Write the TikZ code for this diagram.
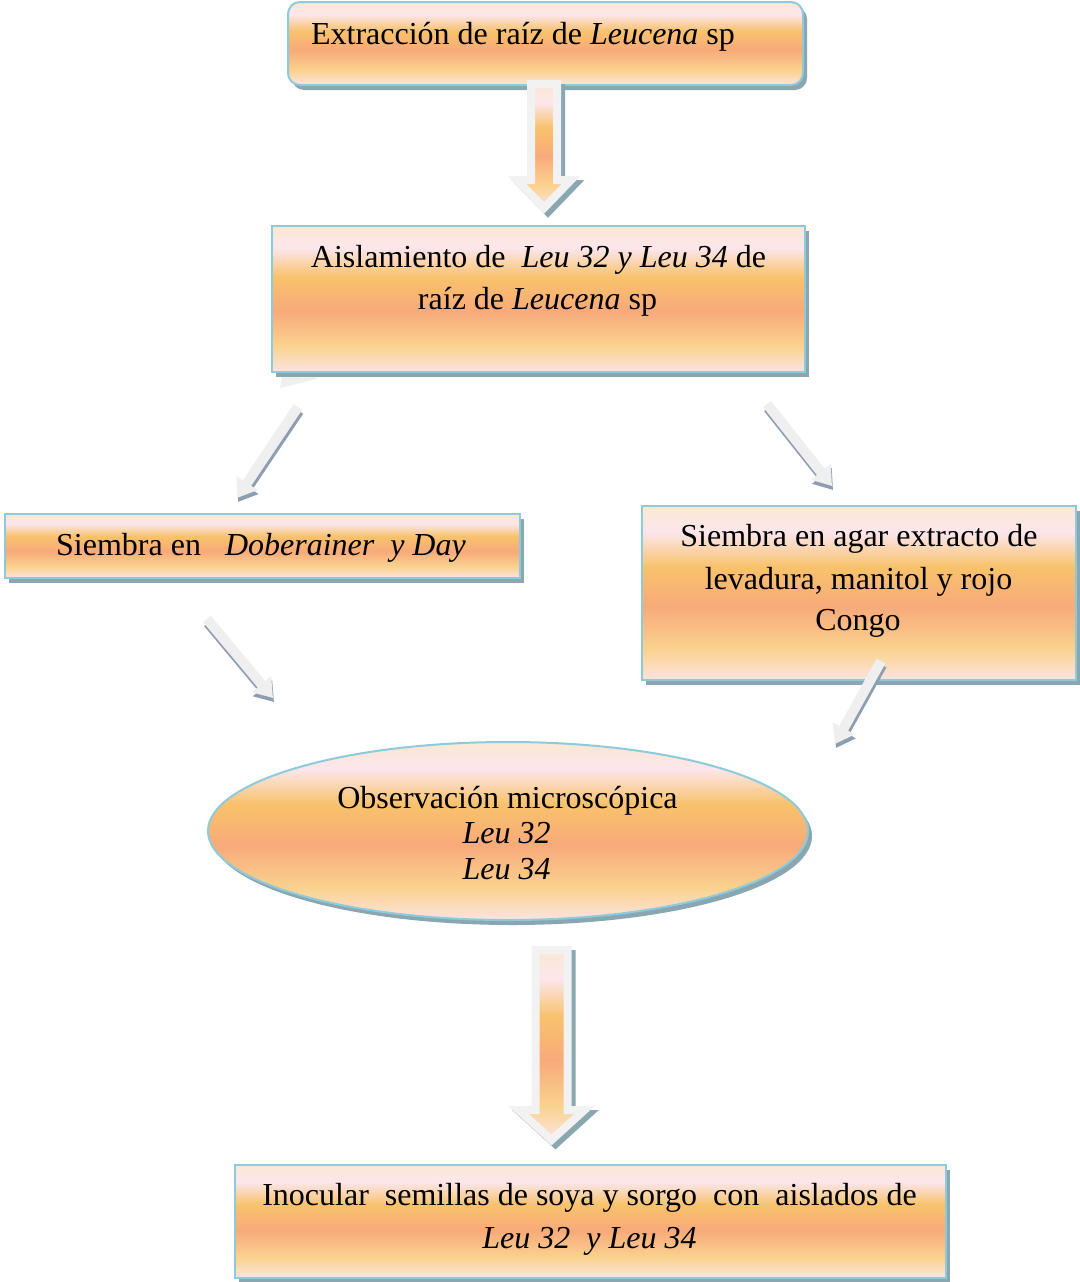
\documentclass[tikz,border=0pt]{standalone}
\usepackage{fontspec}
\setmainfont{Liberation Serif}
\usetikzlibrary{shapes.geometric,shadows,arrows.meta}
\definecolor{pcream}{HTML}{FBE8D2}
\definecolor{ppink}{HTML}{FCE6EC}
\definecolor{pora}{HTML}{F8C26C}
\definecolor{psal}{HTML}{F8AA7A}
\definecolor{plor}{HTML}{FAD28E}
\definecolor{pbot}{HTML}{FCE4E0}
\definecolor{rimc}{HTML}{8DCBDC}
\definecolor{shadowc}{HTML}{8AA6B0}
\definecolor{arrowrim}{HTML}{F2F2F2}
\definecolor{slimc}{HTML}{EFEFEF}
\definecolor{slimshadow}{HTML}{8E9EB2}
\pgfdeclareverticalshading{peach}{100bp}{color(0bp)=(pbot); color(25bp)=(pbot); color(34bp)=(plor); color(46bp)=(psal); color(57.5bp)=(pora); color(67.5bp)=(ppink); color(75bp)=(pcream); color(100bp)=(pcream)}
\tikzset{
  boxstyle/.style={draw=rimc, line width=2pt, shade, shading=peach, inner sep=0pt,
    drop shadow={shadow xshift=4pt, shadow yshift=-5pt, fill=shadowc, opacity=1}},
  txt/.style={font=\fontsize{32}{42}\selectfont, inner sep=0pt, anchor=base, text=black},
  slim/.style={draw=slimc, line width=10pt, -{Triangle[width=24pt,length=18pt]}},
  slimsh/.style={draw=slimshadow, line width=10pt, -{Triangle[width=24pt,length=18pt]}},
  bfill/.style={shade, shading=peach, draw=arrowrim, line join=miter},
  bshadow/.style={fill=shadowc, draw=shadowc, line join=miter}
}
% #1 coordinate, #2 half shaft, #3 half head, #4 head base, #5 tip, #6 line width
\newcommand\blockarrow[6]{%
  \path[bshadow, line width=#6, shift={(#1)}, xshift=4pt, yshift=-4pt]
    (-#2,0) -- (-#2,#4) -- (-#3,#4) -- (0,#5) -- (#3,#4) -- (#2,#4) -- (#2,0) -- cycle;
  \path[bfill, line width=#6, shift={(#1)}]
    (-#2,0) -- (-#2,#4) -- (-#3,#4) -- (0,#5) -- (#3,#4) -- (#2,#4) -- (#2,0) -- cycle;
}
\begin{document}
\begin{tikzpicture}[x=1pt, y=-1pt]
\useasboundingbox (0,0) rectangle (1079,1282);
\fill[white] (0,0) rectangle (1079,1282);

% boxes
\node[boxstyle, rounded corners=12pt, minimum width=515pt, minimum height=83pt] (n1) at (545.5,43.5) {};
\node[boxstyle, minimum width=533pt, minimum height=146pt] (n2) at (538.5,299) {};
\node[boxstyle, minimum width=515pt, minimum height=64pt] (n3) at (262.5,546) {};
\node[boxstyle, minimum width=434pt, minimum height=174pt] (n4) at (859,593) {};
\node[boxstyle, ellipse, minimum width=600pt, minimum height=178pt] (n5) at (508,831) {};
\node[boxstyle, minimum width=711pt, minimum height=113pt] (n6) at (590.5,1221.5) {};

% ghost fragment below box 2
\fill[slimc] (282,377) -- (316,377) -- (316,379) -- (280,388) -- cycle;

% texts
\node[txt] (t1) at (523,44) {Extracción de raíz de \textit{Leucena} sp};
\node[txt] (t2a) at (538.5,267) {Aislamiento de\ \ \textit{Leu 32 y Leu 34} de};
\node[txt] (t2b) at (537.5,309) {raíz de \textit{Leucena} sp};
\node[txt] (t3) at (261,555) {Siembra en\ \ \ \textit{Doberainer\ \ y Day}};
\node[txt] (t4a) at (859,546) {Siembra en agar extracto de};
\node[txt] (t4b) at (858.5,589) {levadura, manitol y rojo};
\node[txt] (t4c) at (858,630) {Congo};
\node[txt] (t5a) at (507.5,808) {Observación microscópica};
\node[txt] (t5b) at (506.5,843) {\textit{Leu 32}};
\node[txt] (t5c) at (506.5,879) {\textit{Leu 34}};
\node[txt] (t6a) at (589.5,1205) {Inocular\ \ semillas de soya y sorgo\ \ con\ \ aislados de};
\node[txt] (t6b) at (589.5,1248) {\textit{Leu 32\ \ y Leu 34}};

% block arrows
\coordinate (b1) at (544,84);
\coordinate (b2) at (551.5,950);
\blockarrow{b1}{13}{27}{96}{124}{8pt}
\blockarrow{b2}{16}{33}{160}{190}{8pt}

% slim arrows
\coordinate (a1s) at (298,407); \coordinate (a1e) at (237,498);
\coordinate (a2s) at (767,404); \coordinate (a2e) at (832,486);
\coordinate (a3s) at (207,619); \coordinate (a3e) at (273,698);
\coordinate (a4s) at (881,661); \coordinate (a4e) at (835,744);
\foreach \s/\e in {a1s/a1e,a2s/a2e,a3s/a3e,a4s/a4e}{
  \draw[slimsh] ([shift={(1,4)}]\s) -- ([shift={(1,4)}]\e);
  \draw[slim] (\s) -- (\e);
}
\end{tikzpicture}
\end{document}
